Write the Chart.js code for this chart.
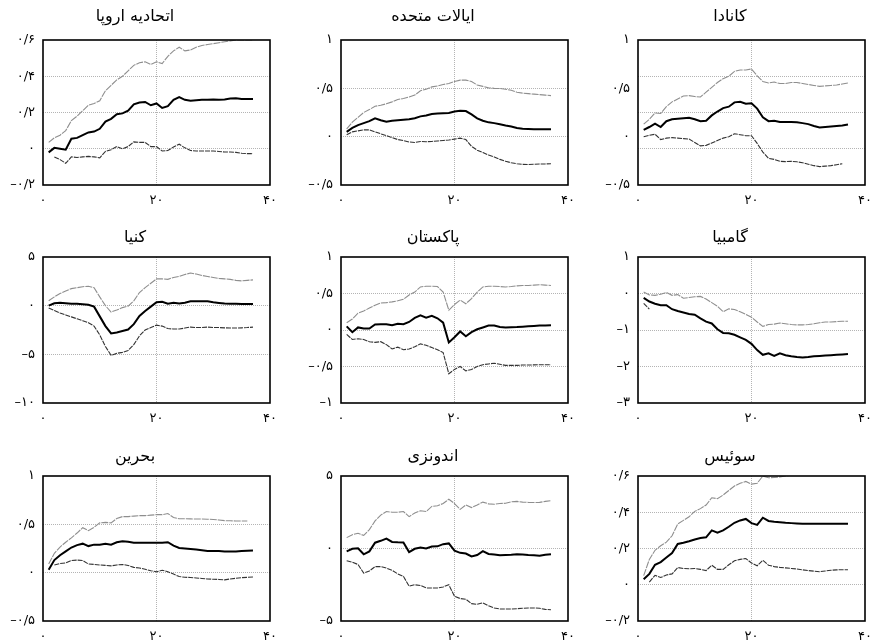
<!DOCTYPE html>
<html>
<head>
<meta charset="utf-8">
<script src="https://cdn.jsdelivr.net/npm/chart.js@4/dist/chart.umd.min.js"></script>
<style>
  html, body { margin: 0; padding: 0; background: #fff; width: 870px; height: 640px; overflow: hidden; }
  canvas { position: absolute; }
</style>
</head>
<body>
<script>
// ---------- data ----------
const steps = [1,2,3,4,5,6,7,8,9,10,11,12,13,14,15,16,17,18,19,20,21,22,23,24,25,26,27,28,29,30,31,32,33,34,35,36,37];
const xTicks = [0, 20, 40];

const titles = ['اتحادیه اروپا', 'ایالات متحده', 'کانادا', 'کنیا', 'پاکستان', 'گامبیا', 'بحرین', 'اندونزی', 'سوئیس'];

// European Union
const euTicks = [0.6, 0.4, 0.2, 0, -0.2];
const euGrid = [0.4, 0.2, 0];
const euMid = [-0.02,0.005,0,-0.005,0.055,0.06,0.075,0.09,0.095,0.11,0.15,0.165,0.19,0.195,0.21,0.245,0.255,0.258,0.24,0.25,0.225,0.235,0.27,0.285,0.27,0.265,0.268,0.27,0.27,0.272,0.27,0.272,0.277,0.278,0.275,0.275,0.275];
const euUp = [0.035,0.06,0.075,0.1,0.155,0.18,0.21,0.24,0.25,0.265,0.32,0.35,0.38,0.4,0.43,0.46,0.475,0.48,0.465,0.48,0.47,0.51,0.54,0.56,0.54,0.545,0.56,0.57,0.575,0.58,0.585,0.59,0.595,0.6,0.6,0.6,0.6];
const euLow = [null,-0.045,-0.06,-0.08,-0.045,-0.048,-0.045,-0.042,-0.045,-0.05,-0.015,-0.005,0.012,0,0.012,0.038,0.035,0.035,0.012,0.012,-0.012,-0.01,0.01,0.025,0.005,-0.01,-0.012,-0.012,-0.012,-0.012,-0.015,-0.018,-0.018,-0.02,-0.025,-0.027,-0.027];

// United States
const usTicks = [1, 0.5, 0, -0.5];
const usGrid = [0.5, 0];
const usMid = [0.05,0.09,0.12,0.14,0.16,0.19,0.17,0.155,0.165,0.17,0.175,0.18,0.19,0.21,0.22,0.235,0.24,0.242,0.245,0.26,0.268,0.265,0.23,0.19,0.165,0.148,0.14,0.128,0.115,0.105,0.09,0.083,0.08,0.078,0.078,0.078,0.078];
const usUp = [0.08,0.15,0.2,0.25,0.28,0.315,0.325,0.34,0.36,0.385,0.395,0.41,0.43,0.475,0.49,0.515,0.525,0.54,0.55,0.57,0.585,0.585,0.57,0.535,0.52,0.505,0.5,0.498,0.49,0.48,0.46,0.45,0.445,0.44,0.435,0.43,0.425];
const usLow = [0.02,0.05,0.06,0.07,0.07,0.05,0.03,0.01,-0.01,-0.03,-0.04,-0.055,-0.06,-0.05,-0.052,-0.05,-0.045,-0.04,-0.035,-0.025,-0.015,-0.03,-0.1,-0.14,-0.165,-0.19,-0.21,-0.235,-0.255,-0.27,-0.28,-0.287,-0.288,-0.285,-0.283,-0.282,-0.28];

// Canada
const caTicks = [1, 0.5, 0, -0.5];
const caGrid = [0.625, 0.25, -0.125];
const caMid = [0.07,0.1,0.135,0.1,0.16,0.18,0.185,0.19,0.195,0.18,0.16,0.165,0.22,0.26,0.295,0.31,0.355,0.36,0.34,0.345,0.29,0.2,0.16,0.165,0.152,0.152,0.152,0.148,0.14,0.13,0.11,0.095,0.1,0.105,0.11,0.115,0.125];
const caUp = [0.13,0.18,0.245,0.24,0.31,0.36,0.39,0.42,0.425,0.415,0.41,0.46,0.51,0.56,0.6,0.625,0.675,0.69,0.69,0.7,0.63,0.57,0.555,0.565,0.55,0.55,0.56,0.56,0.55,0.54,0.53,0.52,0.525,0.53,0.535,0.545,0.555];
const caLow = [0,0.015,0.025,-0.03,-0.015,-0.01,-0.015,-0.02,-0.025,-0.06,-0.095,-0.09,-0.065,-0.04,-0.015,0,0.03,0.02,0.01,0.01,-0.07,-0.16,-0.225,-0.235,-0.255,-0.258,-0.255,-0.26,-0.27,-0.285,-0.3,-0.31,-0.305,-0.3,-0.29,-0.28,null];

// Kenya
const keTicks = [5, 0, -5, -10];
const keGrid = [0, -5];
const keMid = [0,0.25,0.3,0.25,0.2,0.2,0.15,0.1,-0.1,-1.1,-2.1,-2.85,-2.75,-2.6,-2.45,-1.9,-1.05,-0.55,-0.1,0.35,0.4,0.2,0.3,0.22,0.3,0.45,0.45,0.45,0.45,0.35,0.28,0.22,0.2,0.2,0.18,0.17,0.17];
const keUp = [0.5,0.9,1.25,1.5,1.75,1.85,1.95,2,1.85,0.9,0,-0.65,-0.45,-0.2,-0.05,0.5,1.35,1.85,2.3,2.75,2.75,2.7,2.9,3,3.2,3.35,3.25,3.1,3,2.9,2.8,2.75,2.7,2.6,2.55,2.6,2.65];
const keLow = [-0.25,-0.5,-0.75,-0.95,-1.15,-1.35,-1.55,-1.75,-2.1,-3,-4.2,-5.1,-4.9,-4.8,-4.6,-4,-3.1,-2.5,-2.25,-2,-2.1,-2.35,-2.4,-2.4,-2.3,-2.2,-2.25,-2.25,-2.2,-2.25,-2.25,-2.28,-2.3,-2.3,-2.28,-2.25,-2.2];

// Pakistan
const pkTicks = [1, 0.5, 0, -0.5, -1];
const pkGrid = [0.5, 0, -0.5];
const pkMid = [0.05,-0.03,0.035,0.02,0.02,0.075,0.08,0.08,0.065,0.085,0.08,0.11,0.165,0.2,0.17,0.195,0.16,0.1,-0.17,-0.1,-0.02,-0.085,-0.03,0.01,0.035,0.06,0.06,0.04,0.035,0.037,0.04,0.045,0.05,0.055,0.06,0.062,0.064];
const pkUp = [0.1,0.15,0.23,0.26,0.3,0.34,0.37,0.375,0.385,0.4,0.42,0.48,0.52,0.59,0.6,0.6,0.595,0.52,0.27,0.35,0.41,0.36,0.43,0.52,0.59,0.6,0.6,0.595,0.59,0.595,0.605,0.61,0.61,0.615,0.62,0.615,0.61];
const pkLow = [-0.06,-0.13,-0.12,-0.13,-0.16,-0.17,-0.16,-0.2,-0.26,-0.235,-0.27,-0.26,-0.23,-0.19,-0.21,-0.24,-0.27,-0.31,-0.6,-0.54,-0.5,-0.56,-0.54,-0.5,-0.475,-0.465,-0.455,-0.47,-0.485,-0.485,-0.485,-0.48,-0.48,-0.478,-0.475,-0.475,-0.475];

// Gambia
const gmTicks = [1, 0, -1, -2, -3];
const gmGrid = [0, -1, -2];
const gmMid = [-0.12,-0.22,-0.28,-0.32,-0.32,-0.43,-0.48,-0.52,-0.56,-0.58,-0.68,-0.77,-0.82,-0.98,-1.08,-1.09,-1.13,-1.2,-1.27,-1.38,-1.55,-1.68,-1.64,-1.71,-1.64,-1.69,-1.72,-1.74,-1.75,-1.74,-1.72,-1.71,-1.7,-1.69,-1.68,-1.67,-1.66];
const gmUp = [0.04,-0.04,-0.05,-0.02,0.03,-0.05,-0.03,-0.13,-0.11,-0.09,-0.08,-0.15,-0.25,-0.35,-0.5,-0.42,-0.44,-0.5,-0.57,-0.65,-0.78,-0.9,-0.85,-0.84,-0.81,-0.83,-0.85,-0.86,-0.86,-0.85,-0.83,-0.8,-0.78,-0.78,-0.77,-0.76,-0.76];
const gmLow = [-0.27,-0.43,null,null,null,null,null,null,null,null,null,null,null,null,null,null,null,null,null,null,null,null,null,null,null,null,null,null,null,null,null,null,null,null,null,null,null];

// Bahrain
const bhTicks = [1, 0.5, 0, -0.5];
const bhGrid = [0.5, 0];
const bhMid = [0.03,0.13,0.18,0.22,0.26,0.285,0.3,0.275,0.29,0.29,0.3,0.29,0.315,0.325,0.32,0.31,0.31,0.31,0.31,0.31,0.31,0.315,0.28,0.255,0.25,0.245,0.24,0.233,0.225,0.225,0.224,0.22,0.22,0.22,0.225,0.228,0.23];
const bhUp = [0.09,0.2,0.265,0.315,0.36,0.41,0.465,0.435,0.47,0.515,0.52,0.515,0.56,0.58,0.58,0.585,0.59,0.59,0.595,0.6,0.6,0.612,0.57,0.558,0.558,0.556,0.555,0.555,0.553,0.55,0.545,0.538,0.537,0.535,0.535,0.535,null];
const bhLow = [null,0.08,0.095,0.1,0.125,0.13,0.125,0.09,0.085,0.08,0.075,0.07,0.08,0.085,0.075,0.055,0.048,0.035,0.02,0.01,0.025,0.01,-0.015,-0.04,-0.048,-0.05,-0.055,-0.06,-0.065,-0.068,-0.07,-0.075,-0.065,-0.058,-0.052,-0.048,-0.045];

// Indonesia
const idTicks = [5, 0, -5];
const idGrid = [0];
const idMid = [-0.2,-0.02,0.02,-0.4,-0.2,0.4,0.53,0.68,0.45,0.43,0.42,-0.25,-0.02,0.07,0,0.14,0.15,0.3,0.35,-0.15,-0.3,-0.35,-0.55,-0.45,-0.18,-0.38,-0.42,-0.47,-0.45,-0.43,-0.4,-0.42,-0.45,-0.47,-0.5,-0.43,-0.39];
const idUp = [0.75,0.95,1.05,0.9,1.3,1.9,2.3,2.55,2.5,2.5,2.55,2.2,2.45,2.6,2.55,2.9,2.95,3.1,3.4,3.1,2.7,3,2.82,3,3.2,3.08,3.05,3.1,3.12,3.22,3.25,3.2,3.18,3.17,3.18,3.25,3.3];
const idLow = [-0.85,-0.95,-1.1,-1.7,-1.55,-1.25,-1.25,-1.35,-1.5,-1.75,-1.92,-2.6,-2.5,-2.55,-2.72,-2.72,-2.72,-2.65,-2.5,-3.3,-3.45,-3.5,-3.8,-3.85,-3.75,-3.95,-4.1,-4.17,-4.17,-4.17,-4.15,-4.12,-4.1,-4.1,-4.12,-4.2,-4.22];

// Switzerland
const chTicks = [0.6, 0.4, 0.2, 0, -0.2];
const chGrid = [0.4, 0.2, 0];
const chMid = [0.03,0.06,0.11,0.125,0.15,0.175,0.225,0.232,0.24,0.25,0.258,0.262,0.3,0.287,0.3,0.32,0.342,0.355,0.363,0.34,0.33,0.37,0.352,0.348,0.345,0.342,0.34,0.338,0.336,0.336,0.336,0.336,0.336,0.336,0.336,0.336,0.336];
const chUp = [0.05,0.14,0.19,0.215,0.235,0.27,0.335,0.355,0.375,0.405,0.42,0.44,0.48,0.475,0.495,0.52,0.545,0.56,0.57,0.555,0.56,0.6,0.59,0.592,0.595,0.6,0.605,0.61,0.61,0.61,0.615,0.615,0.615,0.615,0.615,0.615,0.615];
const chLow = [null,0.015,0.052,0.04,0.054,0.06,0.095,0.09,0.088,0.09,0.085,0.078,0.108,0.085,0.085,0.11,0.132,0.14,0.145,0.12,0.105,0.135,0.108,0.1,0.096,0.093,0.09,0.087,0.082,0.078,0.075,0.072,0.076,0.08,0.082,0.083,0.083];

// ---------- layout ----------
const FONT = '"DejaVu Sans", "Noto Sans", sans-serif';
const colLeft = [0, 298, 595];
const rowTop = [4, 225, 444];
const rowTitleGap = [14, 10, 10];
const rowBoxH = [145, 146, 145];
const AXIS_W = 43, PLOT_W = 227, AXIS_H = 30;

const panels = [
  [titles[0], euTicks, euGrid, euUp, euMid, euLow],
  [titles[1], usTicks, usGrid, usUp, usMid, usLow],
  [titles[2], caTicks, caGrid, caUp, caMid, caLow],
  [titles[3], keTicks, keGrid, keUp, keMid, keLow],
  [titles[4], pkTicks, pkGrid, pkUp, pkMid, pkLow],
  [titles[5], gmTicks, gmGrid, gmUp, gmMid, gmLow],
  [titles[6], bhTicks, bhGrid, bhUp, bhMid, bhLow],
  [titles[7], idTicks, idGrid, idUp, idMid, idLow],
  [titles[8], chTicks, chGrid, chUp, chMid, chLow]
];

const faDigits = ['۰','۱','۲','۳','۴','۵','۶','۷','۸','۹'];
function toFa(v) {
  const s = String(Math.round(v * 1000) / 1000);
  return s.replace(/-/g, '–').replace(/\./g, '/').replace(/[0-9]/g, d => faDigits[+d]);
}
function pts(arr) { return steps.map((x, i) => ({ x: x, y: arr[i] })); }

const boxPlugin = {
  id: 'plotBox',
  afterDatasetsDraw(chart) {
    const a = chart.chartArea, ctx = chart.ctx;
    ctx.save();
    ctx.strokeStyle = '#000';
    ctx.lineWidth = 1.6;
    ctx.strokeRect(a.left, a.top, a.right - a.left, a.bottom - a.top);
    ctx.restore();
  }
};

Chart.defaults.font.family = FONT;
Chart.defaults.color = '#000';

panels.forEach((p, idx) => {
  const [title, tickVals, gridVals, up, mid, low] = p;
  const row = Math.floor(idx / 3), col = idx % 3;
  const ymax = tickVals[0], ymin = tickVals[tickVals.length - 1];
  const cv = document.createElement('canvas');
  const w = AXIS_W + PLOT_W + AXIS_W;
  const h = 22 + rowTitleGap[row] + rowBoxH[row] + AXIS_H;
  cv.width = w; cv.height = h;
  cv.style.left = colLeft[col] + 'px';
  cv.style.top = rowTop[row] + 'px';
  cv.style.width = w + 'px'; cv.style.height = h + 'px';
  document.body.appendChild(cv);

  new Chart(cv, {
    type: 'line',
    data: {
      datasets: [
        { data: pts(mid), borderColor: '#000', borderWidth: 2, pointRadius: 0, tension: 0 },
        { data: pts(up), borderColor: '#8e8e8e', borderWidth: 1.1, borderDash: [7, 1], pointRadius: 0, tension: 0 },
        { data: pts(low), borderColor: '#333', borderWidth: 1.1, borderDash: [5, 1], pointRadius: 0, tension: 0 }
      ]
    },
    options: {
      responsive: false,
      animation: false,
      devicePixelRatio: 1,
      layout: { padding: { left: 0, right: AXIS_W, top: 0, bottom: 0 } },
      plugins: {
        legend: { display: false },
        tooltip: { enabled: false },
        title: {
          display: true, text: title, color: '#000',
          font: { family: FONT, size: 16, weight: 'normal', lineHeight: 1.125 },
          padding: { top: 4, bottom: rowTitleGap[row] }
        }
      },
      scales: {
        x: {
          type: 'linear', position: 'bottom', min: 0, max: 40,
          afterBuildTicks: s => { s.ticks = xTicks.map(v => ({ value: v })); },
          afterFit: s => { s.height = AXIS_H; },
          ticks: { callback: v => toFa(v), padding: 8, maxRotation: 0, autoSkip: false, font: { size: 13 }, color: '#000' },
          grid: { drawTicks: false, lineWidth: 1, color: c => (c.tick && c.tick.value === 20) ? '#b4b4b4' : 'rgba(0,0,0,0)' },
          border: { display: false, dash: [1, 1] }
        },
        y: {
          type: 'linear', position: 'left', min: ymin, max: ymax,
          afterBuildTicks: s => { s.ticks = tickVals.map(v => ({ value: v })); },
          afterFit: s => { s.width = AXIS_W; },
          ticks: { callback: v => toFa(v), padding: 8, autoSkip: false, font: { size: 13 }, color: '#000' },
          grid: { display: false, drawTicks: false },
          border: { display: false }
        },
        yg: {
          type: 'linear', position: 'right', min: ymin, max: ymax,
          afterBuildTicks: s => { s.ticks = gridVals.map(v => ({ value: v })); },
          afterFit: s => { s.width = 0; },
          ticks: { display: false },
          grid: { drawTicks: false, lineWidth: 1, color: '#b4b4b4' },
          border: { display: false, dash: [1, 1] }
        }
      }
    },
    plugins: [boxPlugin]
  });
});
</script>
</body>
</html>
